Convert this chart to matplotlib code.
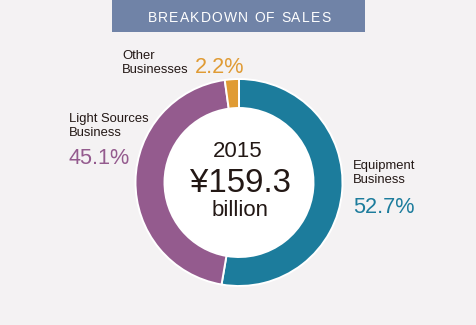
import matplotlib
matplotlib.use("Agg")
import matplotlib.pyplot as plt
from matplotlib.patches import Rectangle, Circle

# Sales breakdown data
segments = ["Equipment\nBusiness", "Light Sources\nBusiness", "Other\nBusinesses"]
shares = [52.7, 45.1, 2.2]
seg_colors = ["#1C7C9C", "#945B8E", "#E09B34"]
year_label = "2015"
total_label = "¥159.3"
unit_label = "billion"
title = "BREAKDOWN OF SALES"

W, H = 477, 325
BG = "#F4F2F3"
DARK = "#231815"
FONT = "Liberation Sans"

fig = plt.figure(figsize=(W / 100, H / 100), dpi=100, facecolor=BG)
ax = fig.add_axes([0, 0, 1, 1])
ax.set_facecolor(BG)


def Y(y):
    return H - y


# donut
cx, cy, r_out, ring = 239, Y(182.5), 103.5, 29
ax.pie(shares, colors=seg_colors, startangle=90, counterclock=False,
       center=(cx, cy), radius=r_out, frame=True,
       wedgeprops=dict(width=ring, edgecolor="white", linewidth=1.4))
ax.add_patch(Circle((cx, cy), r_out - ring, facecolor="white", edgecolor="none", zorder=3))
ax.set_xlim(0, W)
ax.set_ylim(0, H)
ax.set_aspect("equal")
ax.axis("off")

# title banner with letter-spaced caption
ax.add_patch(Rectangle((112, Y(32)), 253, 32, facecolor="#7083A7", edgecolor="none"))
fig.canvas.draw()
renderer = fig.canvas.get_renderer()
tsize = 10
widths = []
for ch in title:
    t = ax.text(0, 0, ch, fontsize=tsize, family=FONT, color="white")
    widths.append(t.get_window_extent(renderer).width)
    t.remove()
spacing = 1.2
total_w = sum(widths) + spacing * (len(title) - 1)
x = 239 - total_w / 2
for ch, w in zip(title, widths):
    ax.text(x, Y(22), ch, fontsize=tsize, family=FONT, color="white",
            ha="left", va="baseline", zorder=5)
    x += w + spacing

# segment labels: (name x, first-line baseline, pct x, pct baseline)
label_pos = [
    (353, 169, 353, 213),
    (69, 122, 69, 164),
    (122, 59, 195, 73),
]
for name, val, col, (nx, ny, px, py) in zip(segments, shares, seg_colors, label_pos):
    for i, line in enumerate(name.split("\n")):
        ax.text(nx, Y(ny + i * 14.5), line, fontsize=9.4, family=FONT,
                color=DARK, ha="left", va="baseline", zorder=5)
    ax.text(px, Y(py), f"{val}%", fontsize=15.6, family=FONT, color=col,
            ha="left", va="baseline", zorder=5)

# center text
ax.text(237.5, Y(157.5), year_label, fontsize=16, family=FONT, color=DARK,
        ha="center", va="baseline", zorder=5)
ax.text(241, Y(192), total_label, fontsize=23.8, family=FONT, color=DARK,
        ha="center", va="baseline", zorder=5)
ax.text(240, Y(216), unit_label, fontsize=16, family=FONT, color=DARK,
        ha="center", va="baseline", zorder=5)

fig.savefig("out.png", dpi=100, facecolor=BG)
